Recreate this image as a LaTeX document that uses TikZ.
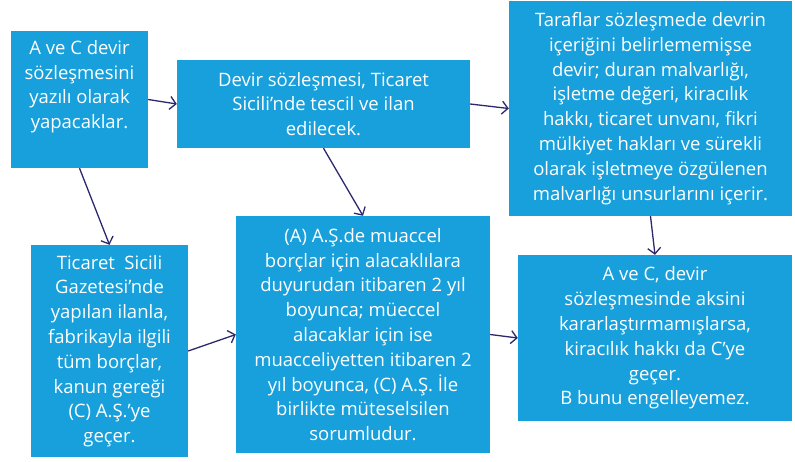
\documentclass[tikz,border=0pt]{standalone}
\usepackage{fontspec}
\setmainfont{Open Sans}
\usetikzlibrary{arrows.meta}
\definecolor{boxblue}{RGB}{23,160,219}
\definecolor{arrownavy}{RGB}{43,40,110}
\begin{document}
\begin{tikzpicture}[x=1pt,y=-1pt,
  box/.style={fill=boxblue,draw=none,inner sep=0pt,text=white,align=center,
    font=\fontsize{18.5}{24.8}\selectfont},
  txt/.style={text=white,align=center,inner sep=0pt,font=\fontsize{18.5}{24.8}\selectfont},
  conn/.style={draw=arrownavy,line width=1.3pt,-{Straight Barb[length=6pt,width=13pt,line width=1.3pt]}}]
\useasboundingbox (0,0) rectangle (795,461);
\node[box,minimum width=137pt,minimum height=137pt] (b1) at (79.5,99.5) {};
\node[txt,anchor=north] (t1) at (79.5,40) {A ve C devir\\sözleşmesini\\yazılı olarak\\yapacaklar.};
\node[box,minimum width=293pt,minimum height=88pt] (b2) at (323.5,104) {Devir sözleşmesi, Ticaret\\Sicili’nde tescil ve ilan\\edilecek.};
\node[box,minimum width=283pt,minimum height=215pt] (b3) at (650.5,108.5) {Taraflar sözleşmede devrin\\içeriğini belirlememişse\\devir; duran malvarlığı,\\işletme değeri, kiracılık\\hakkı, ticaret unvanı, fikri\\mülkiyet hakları ve sürekli\\olarak işletmeye özgülenen\\malvarlığı unsurlarını içerir.};
\node[box,minimum width=157pt,minimum height=212pt] (b4) at (109.5,351) {Ticaret\ \ Sicili\\Gazetesi’nde\\yapılan ilanla,\\fabrikayla ilgili\\tüm borçlar,\\kanun gereği\\(C) A.Ş.’ye\\geçer.};
\node[box,minimum width=254pt,minimum height=237pt] (b5) at (363,334.5) {(A) A.Ş.de muaccel\\borçlar için alacaklılara\\duyurudan itibaren 2 yıl\\boyunca; müeccel\\alacaklar için ise\\muacceliyetten itibaren 2\\yıl boyunca, (C) A.Ş. İle\\birlikte müteselsilen\\sorumludur.};
\node[box,minimum width=274pt,minimum height=166pt] (b6) at (655,338) {A ve C, devir\\sözleşmesinde aksini\\kararlaştırmamışlarsa,\\kiracılık hakkı da C’ye\\geçer.\\B bunu engelleyemez.};
\draw[conn] (b1.east) -- (b2.west);
\draw[conn] (b2.east) -- (b3.west);
\draw[conn] (b1.south) -- (b4.north);
\draw[conn] (b2.south) -- (b5.north);
\draw[conn] (b4.east) -- (b5.west);
\draw[conn] (b3.south) -- (b6.north);
\draw[conn] (b5.east) -- (b6.west);
\end{tikzpicture}
\end{document}
